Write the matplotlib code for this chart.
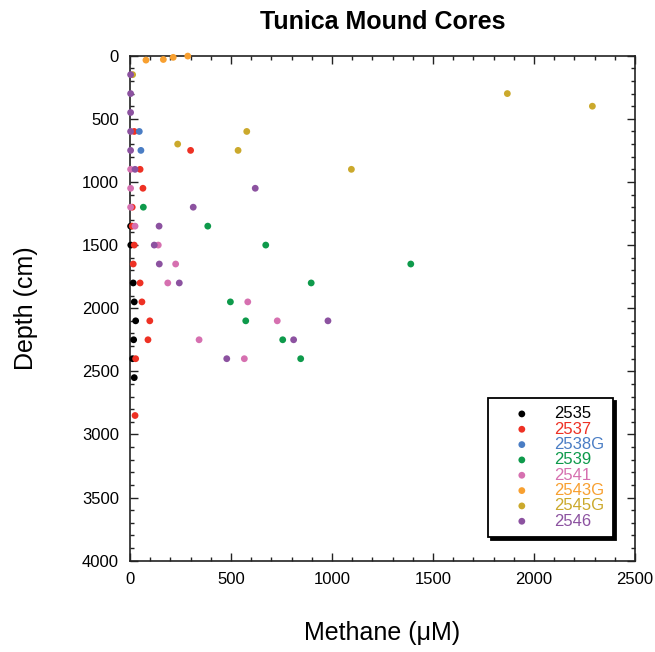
import matplotlib
matplotlib.use('Agg')
import matplotlib.pyplot as plt
from matplotlib.ticker import MultipleLocator

plt.rcParams['font.family'] = ['Liberation Sans', 'DejaVu Sans']

# ── data ───────────────────────────────────────────────────────────────────
cores = ['2535', '2537', '2538G', '2539', '2541', '2543G', '2545G', '2546']
colors = ['#000000', '#EE3124', '#4A7DC4', '#0E9A4B', '#D670B0',
          '#F8A030', '#CBA92C', '#8C52A0']

depth_2535 = [1350, 1500, 1800, 1950, 2100, 2250, 2400, 2550]
ch4_2535   = [3, 4, 16, 21, 28, 18, 13, 21]

depth_2537 = [600, 750, 900, 1050, 1200, 1350, 1500, 1650, 1800, 1950,
              2100, 2250, 2400, 2850]
ch4_2537   = [21, 300, 50, 64, 11, 11, 21, 16, 50, 59, 98, 89, 28, 25]

depth_2538G = [600, 750]
ch4_2538G   = [46, 54]

depth_2539 = [1200, 1350, 1500, 1650, 1800, 1950, 2100, 2250, 2400]
ch4_2539   = [66, 385, 672, 1390, 897, 497, 573, 756, 845]

depth_2541 = [900, 1050, 1200, 1350, 1500, 1650, 1800, 1950, 2100, 2250, 2400]
ch4_2541   = [3, 3, 3, 25, 140, 226, 187, 583, 729, 342, 566]

depth_2543G = [35, 30, 13, 3]
ch4_2543G   = [79, 165, 214, 286]

depth_2545G = [150, 300, 400, 600, 700, 750, 900]
ch4_2545G   = [13, 1868, 2289, 578, 236, 535, 1096]

depth_2546 = [150, 300, 450, 600, 750, 900, 1050, 1200, 1350, 1500, 1650,
              1800, 2100, 2250, 2400]
ch4_2546   = [3, 3, 3, 3, 3, 25, 620, 313, 144, 120, 145, 244, 980, 810, 479]

depths = [depth_2535, depth_2537, depth_2538G, depth_2539, depth_2541,
          depth_2543G, depth_2545G, depth_2546]
ch4s = [ch4_2535, ch4_2537, ch4_2538G, ch4_2539, ch4_2541,
        ch4_2543G, ch4_2545G, ch4_2546]

# ── figure ─────────────────────────────────────────────────────────────────
fig = plt.figure(figsize=(6.55, 6.52), dpi=100)
ax = fig.add_axes([130 / 655, 1 - 560.7 / 652, 505 / 655, 505 / 652])

for name, col, d, c in zip(cores, colors, depths, ch4s):
    ax.scatter(c, d, s=24, color=col, edgecolors='none', label=name,
               clip_on=False, zorder=3)

ax.set_xlim(0, 2500)
ax.set_ylim(4000, 0)
ax.xaxis.set_major_locator(MultipleLocator(500))
ax.xaxis.set_minor_locator(MultipleLocator(100))
ax.yaxis.set_major_locator(MultipleLocator(500))
ax.yaxis.set_minor_locator(MultipleLocator(100))
ax.tick_params(which='both', direction='in', top=True, right=True,
               width=1.0, color='#222222')
ax.tick_params(which='major', length=6, labelsize=12, pad=8)
ax.tick_params(which='minor', length=3)
for s in ax.spines.values():
    s.set_linewidth(1.2)
    s.set_color('#222222')

ax.set_title('Tunica Mound Cores', fontsize=18, fontweight='bold', pad=19)
ax.set_xlabel('Methane (μM)', fontsize=18)
ax.set_ylabel('Depth (cm)', fontsize=18)
ax.xaxis.set_label_coords(0.5, -0.12)
ax.yaxis.set_label_coords(-0.182, 0.5)

leg = ax.legend(loc='lower right', bbox_to_anchor=(0.956, 0.047),
                borderaxespad=0, fontsize=12, scatterpoints=1,
                fancybox=False, framealpha=1, edgecolor='black',
                shadow={'color': 'black', 'alpha': 1},
                borderpad=0.5, handlelength=3.0, handletextpad=0.45,
                labelspacing=0.02)
leg.get_frame().set_linewidth(1.3)
for txt, col in zip(leg.get_texts(), colors):
    txt.set_color(col)

fig.savefig('out.png', dpi=100)
